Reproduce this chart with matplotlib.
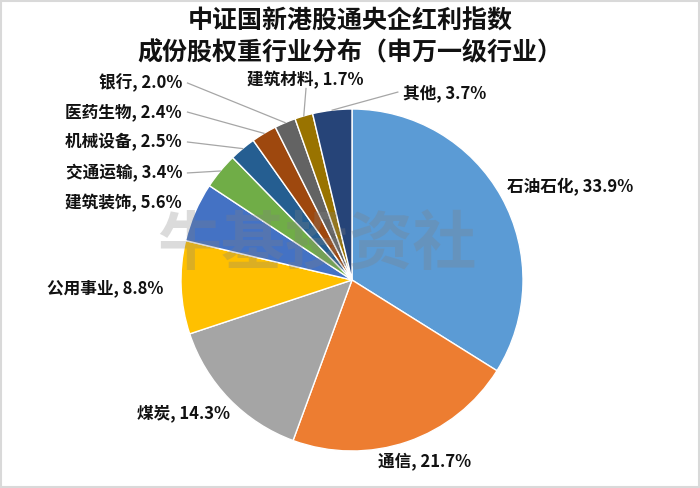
import numpy as np
import matplotlib
matplotlib.use("Agg")
import matplotlib.pyplot as plt
from matplotlib.patches import Rectangle

plt.rcParams['font.family'] = ['Noto Sans CJK SC', 'DejaVu Sans']

# 申万一级行业权重（顺时针，从12点方向开始）
industries = ['石油石化', '通信', '煤炭', '公用事业', '建筑装饰', '交通运输',
              '机械设备', '医药生物', '银行', '建筑材料', '其他']
weights = [33.9, 21.7, 14.3, 8.8, 5.6, 3.4, 2.5, 2.4, 2.0, 1.7, 3.7]
colors = ['#5B9BD5', '#ED7D31', '#A5A5A5', '#FFC000', '#4472C4', '#70AD47',
          '#255E91', '#9E480E', '#636363', '#997300', '#264478']

fig = plt.figure(figsize=(7, 4.88), dpi=100)
ax = fig.add_axes([0, 0, 1, 1])

wedges, _ = ax.pie(weights, colors=colors, startangle=90, counterclock=False,
                   radius=1.0, wedgeprops=dict(edgecolor='white', linewidth=1.0))
# 轴范围按像素换算: 饼图圆心 (352, 280)px, 半径 171px
ax.set_aspect('auto')
ax.set_xlim(-352 / 171, 348 / 171)
ax.set_ylim(-208 / 171, 280 / 171)
ax.axis('off')

# 标签位置 (x, y, 对齐方式, 引线起点)
label_pos = {
    '石油石化': (0.906, 0.544, 'left', None),
    '通信': (0.427, -1.064, 'center', None),
    '煤炭': (-0.988, -0.778, 'center', None),
    '公用事业': (-1.105, -0.047, 'right', None),
    '建筑装饰': (-0.994, 0.450, 'right', None),
    '交通运输': (-0.994, 0.626, 'right', (-0.962, 0.626)),
    '机械设备': (-0.994, 0.807, 'right', (-0.962, 0.807)),
    '医药生物': (-0.994, 0.982, 'right', (-0.962, 0.982)),
    '银行': (-0.994, 1.152, 'right', (-0.962, 1.152)),
    '建筑材料': (-0.272, 1.170, 'center', (-0.269, 1.120)),
    '其他': (0.298, 1.094, 'left', (0.268, 1.099)),
}

for w, name, val in zip(wedges, industries, weights):
    x, y, ha, start = label_pos[name]
    ax.text(x, y, f'{name}, {val:.1f}%', ha=ha, va='center', fontsize=12,
            fontweight='bold', color='#111111')
    if start is not None:
        mid = np.deg2rad((w.theta1 + w.theta2) / 2)
        ax.plot([start[0], np.cos(mid)], [start[1], np.sin(mid)],
                color='#a6a6a6', linewidth=0.9, zorder=3)

# 水印
fig.text(317 / 700, 1 - 245 / 488, '牛基投资社', ha='center', va='center',
         fontsize=46, fontweight='bold', color='gray', alpha=0.28, zorder=5)

fig.text(0.5, 1 - 22 / 488, '中证国新港股通央企红利指数', ha='center', va='center',
         fontsize=18, fontweight='heavy', color='#111111')
fig.text(0.5, 1 - 53 / 488, '成份股权重行业分布（申万一级行业）', ha='center', va='center',
         fontsize=18, fontweight='heavy', color='#111111')

fig.patches.append(Rectangle((0.002, 0.003), 0.996, 0.994, transform=fig.transFigure,
                             fill=False, edgecolor='#d9d9d9', linewidth=1.5))

fig.savefig('out.png', dpi=100)
